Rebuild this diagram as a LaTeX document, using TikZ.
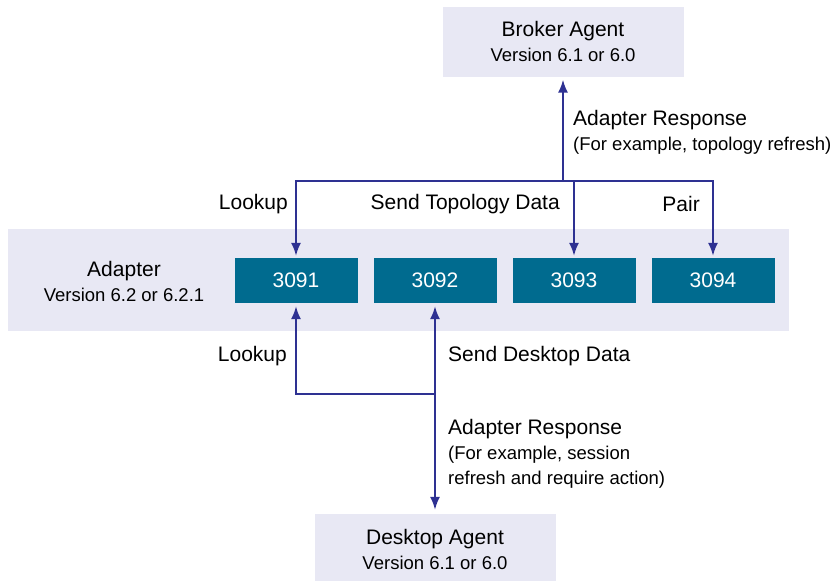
\documentclass[tikz,border=0pt]{standalone}
\usepackage{fontspec}
\setmainfont{Liberation Sans}
\usetikzlibrary{arrows.meta}

\definecolor{msgblue}{HTML}{2E3192}
\definecolor{portteal}{HTML}{006B8F}
\definecolor{agentfill}{HTML}{E8E8F4}
\newcommand{\bigfont}{\fontsize{21}{25}\selectfont}
\newcommand{\verfont}{\fontsize{18.5}{25}\selectfont}

\begin{document}
\begin{tikzpicture}[x=1pt, y=-1pt, node distance=139pt, agent/.style={rectangle, fill=agentfill, minimum width=241pt, minimum height=70pt, align=center, font=\bigfont}, port/.style={rectangle, fill=portteal, text=white, minimum width=123pt, minimum height=45pt, font=\bigfont}, msg/.style={draw=msgblue, line width=1.8pt, shorten >=3pt, -{Latex[length=13pt, width=10pt]}}, lbl/.style={font=\bigfont, inner sep=0pt}]
  \useasboundingbox (0,0) rectangle (833,581);
  % adapter band and its ports
  \node[fill=agentfill, minimum width=781pt, minimum height=102pt] (adapter) at (398.5,280) {};
  \node[align=center, font=\bigfont] (adapterlbl) at (124,281) {Adapter\\{\verfont Version 6.2 or 6.2.1}};
  \node[port] (p3091) at (296,280.5) {3091};
  \node[port, right of=p3091] (p3092) {3092};
  \node[port, right of=p3092] (p3093) {3093};
  \node[port, right of=p3093] (p3094) {3094};

  % agents
  \node[agent] (broker) at (563,41.5) {Broker Agent\\{\verfont Version 6.1 or 6.0}};
  \node[agent] (desktop) at (435,549) {Desktop Agent\\{\verfont Version 6.1 or 6.0}};

  % broker side
  \node[coordinate] (top) at (563,181) {};
  \draw[msg] (top) -- (broker);
  \draw[msg, shorten >=2pt] (top) -| (p3091);
  \draw[msg, shorten >=2pt] (top) -| (p3093);
  \draw[msg, shorten >=2pt] (top) -| (p3094);
  \node[lbl, anchor=east] (lookuptop) at (288,204) {Lookup};
  \node[lbl, anchor=east] (sendtopo) at (560,204) {Send Topology Data};
  \node[lbl, anchor=east] (pair) at (700,204) {Pair};
  \node[lbl, anchor=west, align=left] (brokerresp) at (573,132) {Adapter Response\\{\verfont (For example, topology refresh)}};

  % desktop side
  \node[coordinate, below of=p3092, node distance=113.5pt] (bot) {};
  \draw[msg] (bot) -| (p3091);
  \draw[msg] (bot) -- (p3092);
  \draw[msg, shorten >=4pt] (bot) -- (desktop);
  \node[lbl, anchor=east] (lookupbot) at (287,356) {Lookup};
  \node[lbl, anchor=west] (senddesk) at (448,356) {Send Desktop Data};
  \node[lbl, anchor=west, align=left] (deskresp) at (448,453.5) {Adapter Response\\{\verfont (For example, session}\\{\verfont refresh and require action)}};
\end{tikzpicture}
\end{document}
